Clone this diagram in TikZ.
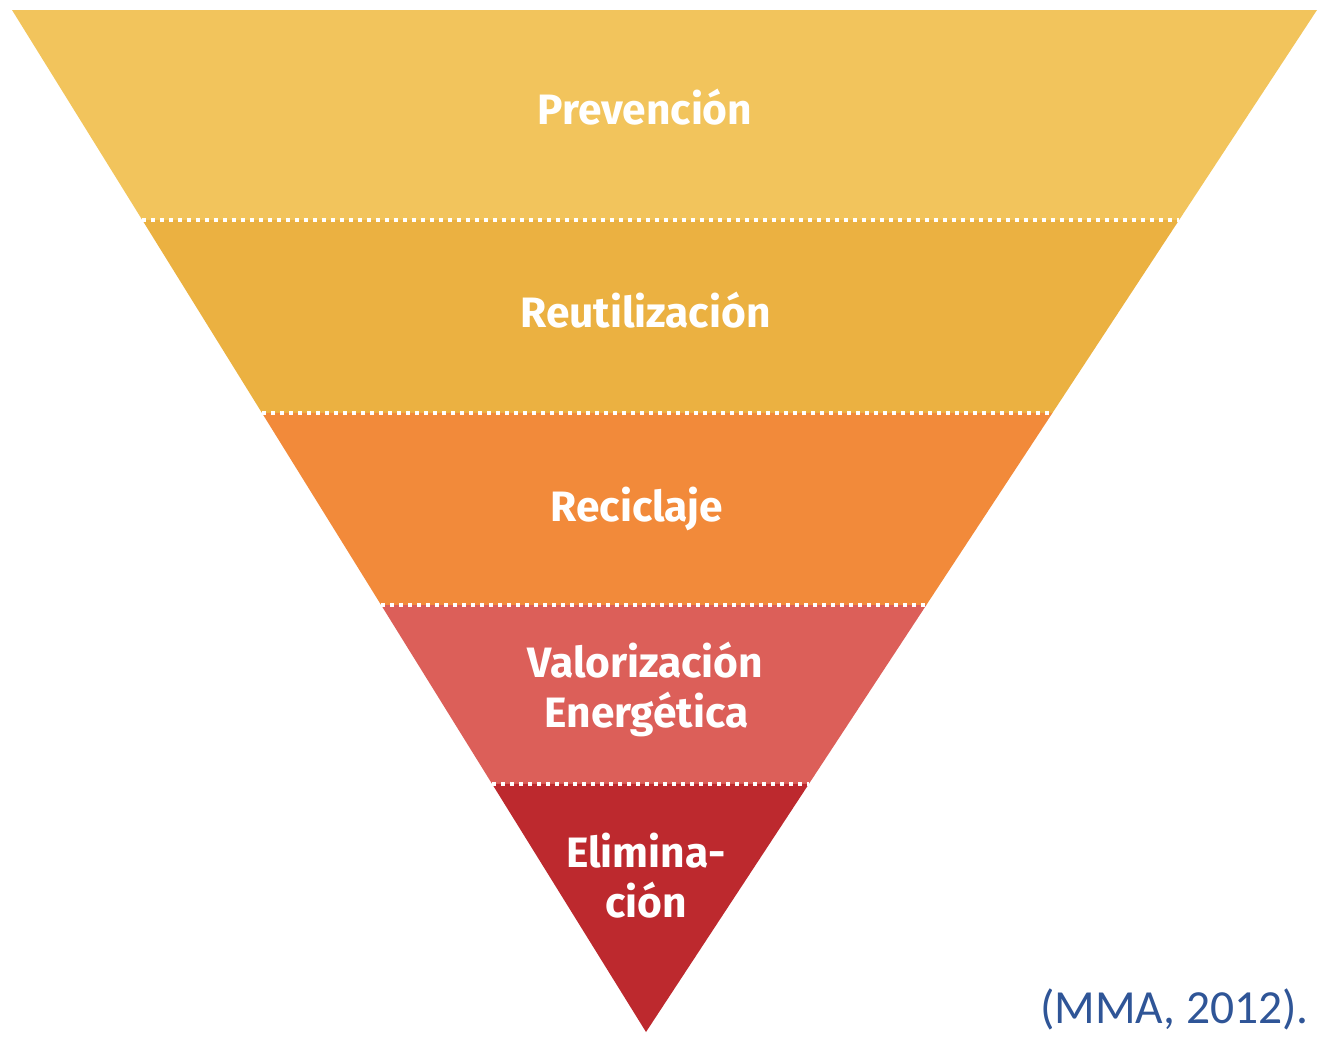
\documentclass[tikz,border=0pt]{standalone}
\usepackage{fontspec}
\setmainfont{Fira Sans}
\newfontfamily\citefont{Carlito}
\usetikzlibrary{calc}
\definecolor{bandA}{HTML}{F2C45C}
\definecolor{bandB}{HTML}{EBB141}
\definecolor{bandC}{HTML}{F28A3A}
\definecolor{bandD}{HTML}{DC5F59}
\definecolor{bandE}{HTML}{BD292E}
\definecolor{citeblue}{HTML}{2F5597}
\tikzset{
  band/.style={draw=none},
  sep/.style={draw=white, line width=3.5pt, dash pattern=on 3.5pt off 5.5pt},
  lbl/.style={text=white, font=\fontsize{42.5}{50}\selectfont\bfseries, anchor=base, inner sep=0pt, align=center},
  cite/.style={text=citeblue, font=\citefont\fontsize{47.5}{56}\selectfont, anchor=base east, inner sep=0pt}
}
\begin{document}
\begin{tikzpicture}[x=1pt,y=-1pt]
\useasboundingbox (0,0) rectangle (1320,1039);
\coordinate (TL) at (12,10);
\coordinate (TR) at (1317,10);
\coordinate (A) at (646,1032);
% band boundary coordinates
\foreach \n/\yy in {1/220,2/413,3/605,4/784}{
  \coordinate (L\n) at ($(TL)!{(\yy-10)/1022}!(A)$);
  \coordinate (R\n) at ($(TR)!{(\yy-10)/1022}!(A)$);
}
\fill[bandA] (TL) -- (TR) -- (R1) -- (L1) -- cycle;
\fill[bandB] (L1) -- (R1) -- (R2) -- (L2) -- cycle;
\fill[bandC] (L2) -- (R2) -- (R3) -- (L3) -- cycle;
\fill[bandD] (L3) -- (R3) -- (R4) -- (L4) -- cycle;
\fill[bandE] (L4) -- (R4) -- (A) -- cycle;
\foreach \n in {1,2,3,4}{
  \draw[sep] (L\n) -- (R\n);
}
\node[lbl] (prev) at (645,124) {Prevención};
\node[lbl] (reut) at (645.5,327) {Reutilización};
\node[lbl] (reci) at (637,521) {Reciclaje};
\node[lbl] (valo) at (645.5,677) {Valorización};
\node[lbl] (ener) at (646.5,727) {Energética};
\node[lbl] (elim) at (646,867) {Elimina-};
\node[lbl] (cion) at (646,917) {ción};
\node[cite] (ref) at (1309,1023) {(MMA, 2012).};
\end{tikzpicture}
\end{document}
